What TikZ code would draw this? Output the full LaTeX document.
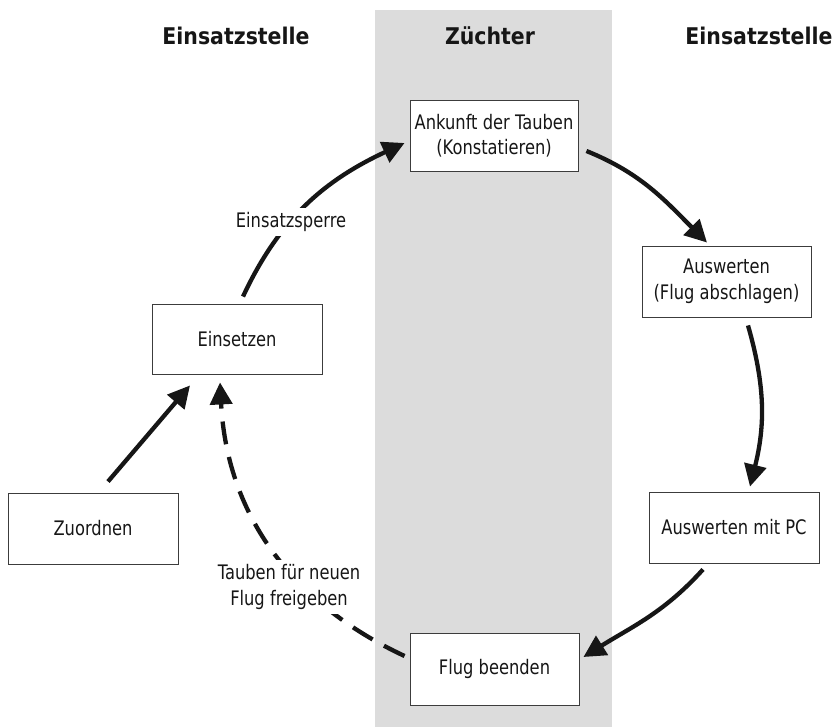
\documentclass[tikz,border=0pt]{standalone}
\usepackage{fontspec}
\setmainfont{DejaVu Sans}[FakeStretch=0.815]
\newfontfamily\headfont{DejaVu Sans}[FakeStretch=0.89]
\usetikzlibrary{arrows.meta,calc}
\definecolor{band}{RGB}{220,220,220}
\definecolor{ink}{RGB}{22,22,22}
\definecolor{boxline}{RGB}{60,60,60}
\begin{document}
\begin{tikzpicture}[x=1pt,y=1pt,
  box/.style={draw=boxline,line width=0.9pt,fill=white,inner sep=0pt,align=center,
    font=\fontsize{20}{25.5}\selectfont,text=ink,minimum width=169pt,minimum height=71pt},
  head/.style={font=\headfont\fontsize{23}{27}\selectfont\bfseries,text=ink,anchor=base},
  flow/.style={draw=ink,line width=4.3pt,-{Triangle[length=22pt,width=22pt]}},
  dashflow/.style={flow,dash pattern=on 23pt off 13pt},
  lbl/.style={fill=white,inner sep=4pt,align=center,font=\fontsize{20}{26.5}\selectfont,text=ink}]
\useasboundingbox (0,0) rectangle (835,-727);
\fill[band] (375,-10) rectangle (612,-727);
% headers
\node[head] (h1) at (236,-45) {Einsatzstelle};
\node[head] (h2) at (490,-45) {Züchter};
\node[head] (h3) at (759,-45) {Einsatzstelle};
% boxes
\node[box,minimum width=168pt] (ank) at (494,-135.5) {Ankunft der Tauben\\(Konstatieren)};
\node[box] (ausw) at (726.5,-281.5) {Auswerten\\(Flug abschlagen)};
\node[box,minimum width=170pt] (pc) at (734,-527.5) {Auswerten mit PC};
\node[box,minimum height=72pt] (flug) at (494.5,-669) {Flug beenden};
\node[box,minimum width=170pt,minimum height=70pt] (ein) at (237,-339) {Einsetzen};
\node[box,minimum width=170pt] (zuo) at (93,-528.5) {Zuordnen};
% connectors
\draw[flow] ([xshift=6pt,yshift=7pt]ein.north) to[out=65,in=205] ([xshift=-5pt,yshift=-7.5pt]ank.west);
\draw[flow] ([xshift=8pt,yshift=-15.5pt]ank.east) to[out=-22,in=135] ([xshift=-19.5pt,yshift=3pt]ausw.north);
\draw[flow] ([xshift=21.5pt,yshift=-8pt]ausw.south) to[out=-74,in=76] ([xshift=16pt,yshift=5pt]pc.north);
\draw[flow] ([xshift=-31pt,yshift=-6pt]pc.south) to[out=-132,in=32] ([xshift=4pt,yshift=12pt]flug.east);
\draw[dashflow] ([xshift=-5pt,yshift=13pt]flug.west) to[out=155,in=-87] ([xshift=-17pt,yshift=-8pt]ein.south);
\draw[flow] ([xshift=15pt,yshift=11pt]zuo.north) -- ([xshift=-47pt,yshift=-11pt]ein.south);
% labels
\node[lbl] (l1) at (291,-222) {Einsatzsperre};
\node[lbl] (l2) at (289,-587) {Tauben für neuen\\Flug freigeben};
\end{tikzpicture}
\end{document}
